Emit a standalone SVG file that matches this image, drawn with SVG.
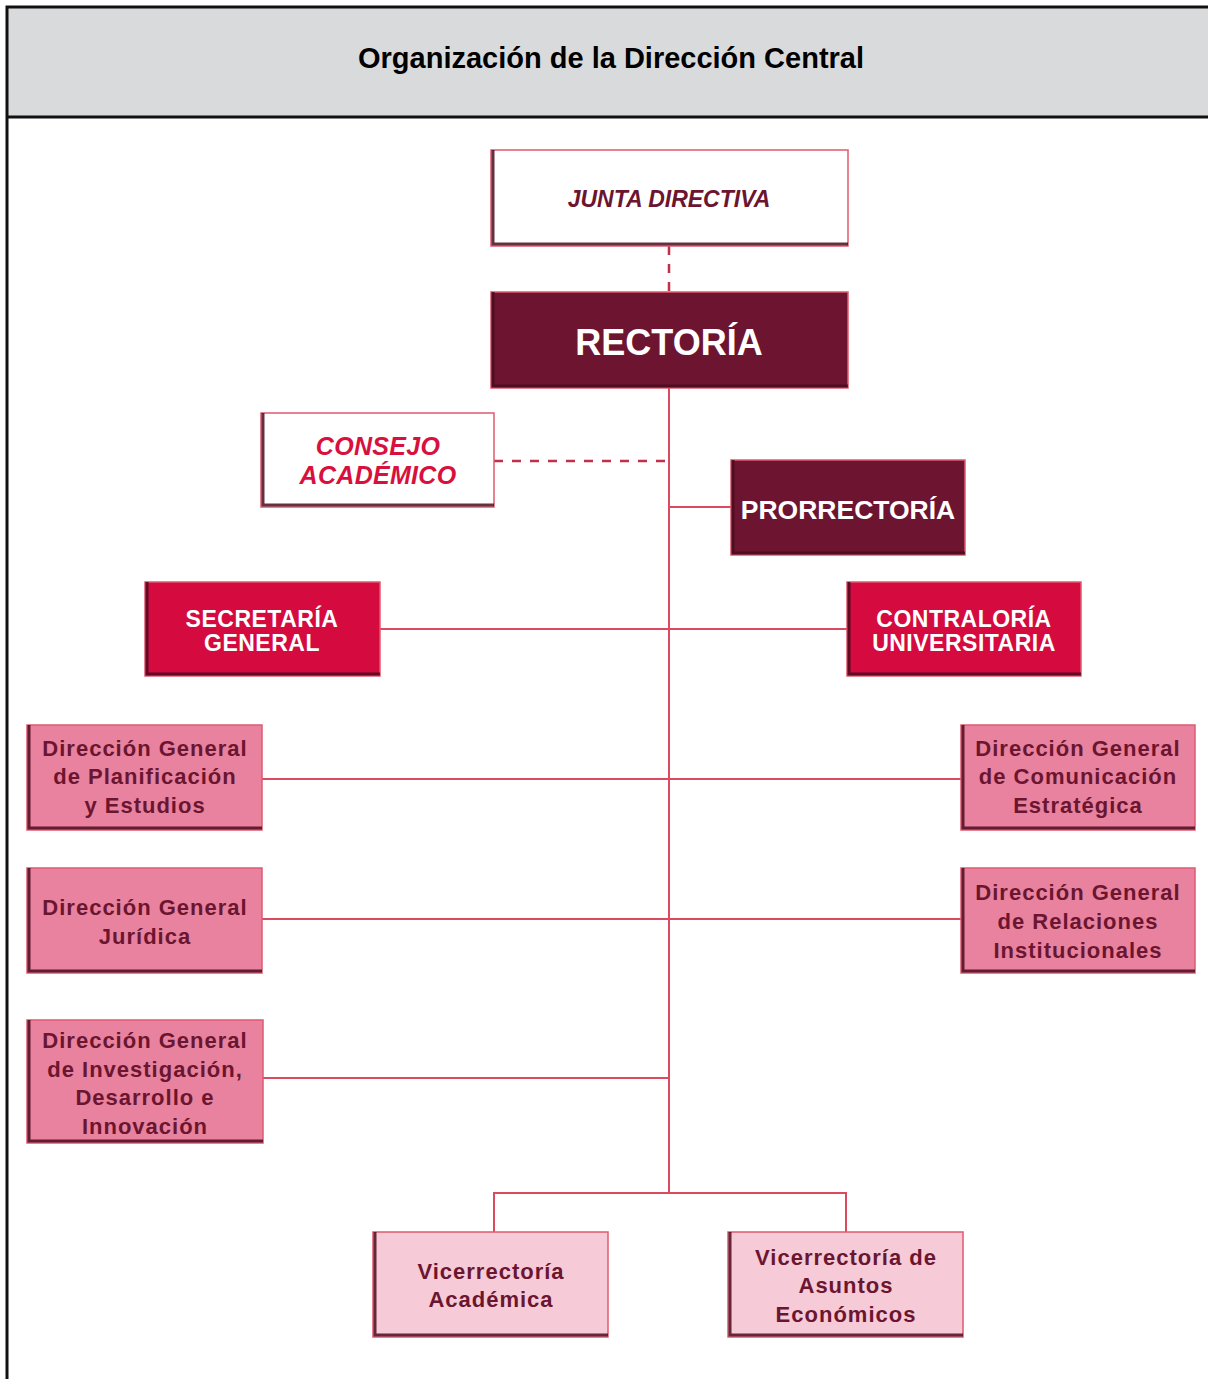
<svg xmlns="http://www.w3.org/2000/svg" width="1208" height="1379" viewBox="0 0 1208 1379">
<style>
.t{font-family:"Liberation Sans",Arial,sans-serif;font-weight:bold;text-anchor:middle}
.p{font-size:22px;letter-spacing:1px;fill:#6b1530}
.box{stroke:#e05a70;stroke-width:1.5}
.sh{fill:none;stroke:#4a0c1e;stroke-width:3;stroke-opacity:0.85}
.ln{stroke:#dc4a60;stroke-width:2;fill:none}
.dash{stroke:#c0304a;stroke-width:2.5;fill:none;stroke-dasharray:9 9}
.dk{fill:#6d1530}
.wh{fill:#ffffff}
.rd{fill:#d50a3f}
.pk{fill:#e8829e}
.lp{fill:#f6cad6}
</style>
<rect x="0" y="0" width="1208" height="1379" fill="#ffffff"/>
<rect x="7" y="7" width="1210" height="110" fill="#d9dadc"/>
<path d="M7,1379 V7 H1208 M7,117 H1208" fill="none" stroke="#111" stroke-width="3"/>
<text class="t" x="611" y="68" font-size="29" fill="#000">Organización de la Dirección Central</text>

<g id="connectors">
<path class="dash" d="M669,246 V292"/>
<path class="dash" d="M494,461 H669"/>
<path class="ln" d="M669,388 V1193"/>
<path class="ln" d="M669,507 H731"/>
<path class="ln" d="M380,629 H847"/>
<path class="ln" d="M262,779 H961"/>
<path class="ln" d="M262,919 H961"/>
<path class="ln" d="M263,1078 H669"/>
<path class="ln" d="M494,1232 V1193 H846 V1232"/>
</g>

<g id="junta">
<rect class="box wh" x="491" y="150" width="357" height="96"/>
<path class="sh" d="M493,150 V244 H848"/>
<text class="t" x="669" y="207" font-size="23" font-style="italic" fill="#6b1530">JUNTA DIRECTIVA</text>
</g>
<g id="rectoria">
<rect class="box dk" x="491" y="292" width="357" height="96"/>
<path class="sh" d="M493,292 V386 H848"/>
<text class="t" x="669" y="355" font-size="36" fill="#ffffff">RECTORÍA</text>
</g>
<g id="consejo">
<rect class="box wh" x="261" y="413" width="233" height="94"/>
<path class="sh" d="M263,413 V505 H494"/>
<text class="t" x="378" y="455" font-size="25" letter-spacing="0.3" font-style="italic" fill="#d8103e">CONSEJO</text>
<text class="t" x="378" y="484" font-size="25" letter-spacing="0.3" font-style="italic" fill="#d8103e">ACADÉMICO</text>
</g>
<g id="prorrectoria">
<rect class="box dk" x="731" y="460" width="234" height="95"/>
<path class="sh" d="M733,460 V553 H965"/>
<text class="t" x="848" y="519" font-size="26.5" fill="#ffffff">PRORRECTORÍA</text>
</g>
<g id="secretaria">
<rect class="box rd" x="145" y="582" width="235" height="94"/>
<path class="sh" d="M147,582 V674 H380"/>
<text class="t" x="262" y="627" font-size="23" letter-spacing="0.5" fill="#ffffff">SECRETARÍA</text>
<text class="t" x="262" y="651" font-size="23" letter-spacing="0.5" fill="#ffffff">GENERAL</text>
</g>
<g id="contraloria">
<rect class="box rd" x="847" y="582" width="234" height="94"/>
<path class="sh" d="M849,582 V674 H1081"/>
<text class="t" x="964" y="627" font-size="23" letter-spacing="0.5" fill="#ffffff">CONTRALORÍA</text>
<text class="t" x="964" y="651" font-size="23" letter-spacing="0.5" fill="#ffffff">UNIVERSITARIA</text>
</g>
<g id="dg-planificacion">
<rect class="box pk" x="27" y="725" width="235" height="105"/>
<path class="sh" d="M29,725 V828 H262"/>
<text class="t p" x="145" y="756">Dirección General</text>
<text class="t p" x="145" y="784">de Planificación</text>
<text class="t p" x="145" y="813">y Estudios</text>
</g>
<g id="dg-comunicacion">
<rect class="box pk" x="961" y="725" width="234" height="105"/>
<path class="sh" d="M963,725 V828 H1195"/>
<text class="t p" x="1078" y="756">Dirección General</text>
<text class="t p" x="1078" y="784">de Comunicación</text>
<text class="t p" x="1078" y="813">Estratégica</text>
</g>
<g id="dg-juridica">
<rect class="box pk" x="27" y="868" width="235" height="105"/>
<path class="sh" d="M29,868 V971 H262"/>
<text class="t p" x="145" y="915">Dirección General</text>
<text class="t p" x="145" y="944">Jurídica</text>
</g>
<g id="dg-relaciones">
<rect class="box pk" x="961" y="868" width="234" height="105"/>
<path class="sh" d="M963,868 V971 H1195"/>
<text class="t p" x="1078" y="900">Dirección General</text>
<text class="t p" x="1078" y="929">de Relaciones</text>
<text class="t p" x="1078" y="958">Institucionales</text>
</g>
<g id="dg-investigacion">
<rect class="box pk" x="27" y="1020" width="236" height="123"/>
<path class="sh" d="M29,1020 V1141 H263"/>
<text class="t p" x="145" y="1048">Dirección General</text>
<text class="t p" x="145" y="1077">de Investigación,</text>
<text class="t p" x="145" y="1105">Desarrollo e</text>
<text class="t p" x="145" y="1134">Innovación</text>
</g>
<g id="vr-academica">
<rect class="box lp" x="373" y="1232" width="235" height="105"/>
<path class="sh" d="M375,1232 V1335 H608"/>
<text class="t p" x="491" y="1279">Vicerrectoría</text>
<text class="t p" x="491" y="1307">Académica</text>
</g>
<g id="vr-economicos">
<rect class="box lp" x="728" y="1232" width="235" height="105"/>
<path class="sh" d="M730,1232 V1335 H963"/>
<text class="t p" x="846" y="1265">Vicerrectoría de</text>
<text class="t p" x="846" y="1293">Asuntos</text>
<text class="t p" x="846" y="1322">Económicos</text>
</g>
</svg>
